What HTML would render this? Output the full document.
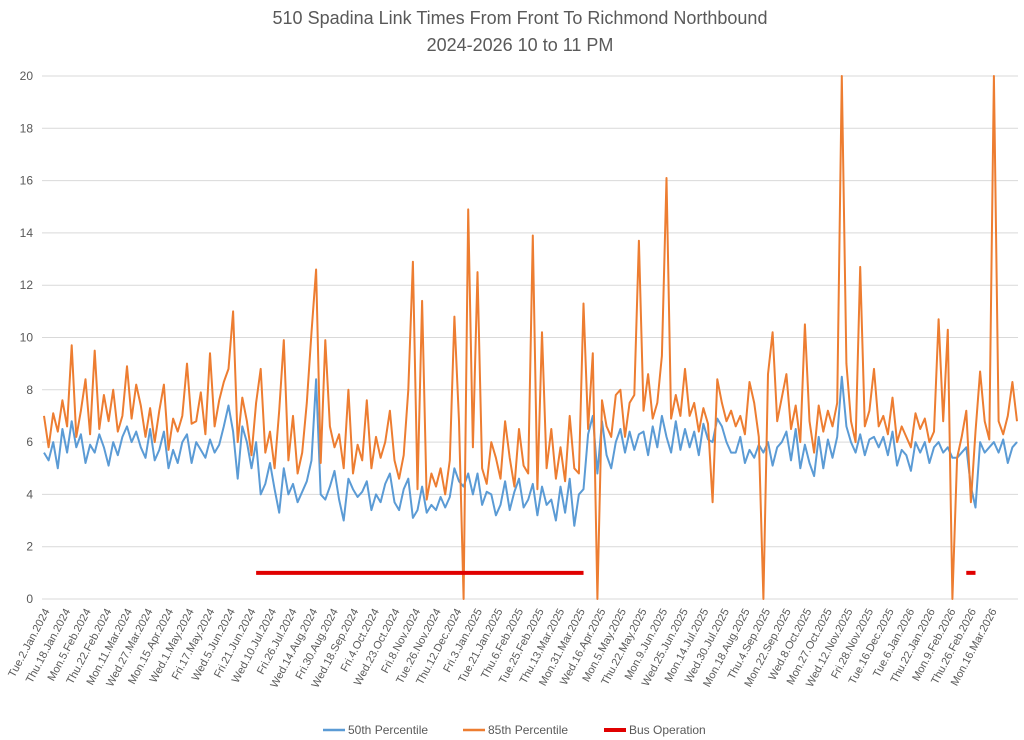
<!DOCTYPE html>
<html><head><meta charset="utf-8"><style>
body{margin:0;background:#fff;}
svg{display:block;font-family:"Liberation Sans",sans-serif;}
</style></head><body>
<svg id="chart" width="1024" height="740">
<text x="520" y="24" text-anchor="middle" font-size="18" fill="#595959">510 Spadina Link Times From Front To Richmond Northbound</text>
<text x="520" y="51" text-anchor="middle" font-size="18" fill="#595959">2024-2026 10 to 11 PM</text>
<g id="grid"></g><g id="ylab"></g><g id="xlab"></g><g id="series"></g>
<g>
<line x1="323" y1="730" x2="345" y2="730" stroke="#5b9bd5" stroke-width="2.5"/>
<text x="348" y="734" font-size="12" fill="#595959">50th Percentile</text>
<line x1="463" y1="730" x2="485" y2="730" stroke="#ed7d31" stroke-width="2.5"/>
<text x="488" y="734" font-size="12" fill="#595959">85th Percentile</text>
<line x1="604" y1="730" x2="626" y2="730" stroke="#e00000" stroke-width="4"/>
<text x="629" y="734" font-size="12" fill="#595959">Bus Operation</text>
</g>
</svg>
<script>
const yTicks=[0,2,4,6,8,10,12,14,16,18,20];
const xLabels=["Tue.2.Jan.2024","Thu.18.Jan.2024","Mon.5.Feb.2024","Thu.22.Feb.2024","Mon.11.Mar.2024","Wed.27.Mar.2024","Mon.15.Apr.2024","Wed.1.May.2024","Fri.17.May.2024","Wed.5.Jun.2024","Fri.21.Jun.2024","Wed.10.Jul.2024","Fri.26.Jul.2024","Wed.14.Aug.2024","Fri.30.Aug.2024","Wed.18.Sep.2024","Fri.4.Oct.2024","Wed.23.Oct.2024","Fri.8.Nov.2024","Tue.26.Nov.2024","Thu.12.Dec.2024","Fri.3.Jan.2025","Tue.21.Jan.2025","Thu.6.Feb.2025","Tue.25.Feb.2025","Thu.13.Mar.2025","Mon.31.Mar.2025","Wed.16.Apr.2025","Mon.5.May.2025","Thu.22.May.2025","Mon.9.Jun.2025","Wed.25.Jun.2025","Mon.14.Jul.2025","Wed.30.Jul.2025","Mon.18.Aug.2025","Thu.4.Sep.2025","Mon.22.Sep.2025","Wed.8.Oct.2025","Mon.27.Oct.2025","Wed.12.Nov.2025","Fri.28.Nov.2025","Tue.16.Dec.2025","Tue.6.Jan.2026","Thu.22.Jan.2026","Mon.9.Feb.2026","Thu.26.Feb.2026","Mon.16.Mar.2026"];
const p85=[7,5.8,7.1,6.4,7.6,6.6,9.7,6.2,7.2,8.4,
6.3,9.5,6.5,7.8,6.8,8.0,6.4,7.0,8.9,6.9,
8.2,7.4,6.2,7.3,6.0,7.2,8.2,5.7,6.9,6.4,
7.0,9.0,6.7,6.8,7.9,6.3,9.4,6.6,7.6,8.3,
8.8,11.0,6.0,7.7,6.8,5.5,7.5,8.8,5.6,6.4,
5.0,7.2,9.9,5.3,7.0,4.8,5.6,7.5,10.2,12.6,
5.2,9.9,6.6,5.8,6.3,5.0,8.0,4.8,5.9,5.3,
7.6,5.0,6.2,5.4,6.0,7.2,5.3,4.6,5.5,8.0,
12.9,4.2,11.4,3.8,4.8,4.3,5.0,4.0,5.3,10.8,
6.8,0,14.9,5.8,12.5,5.0,4.4,6.0,5.4,4.6,
6.8,5.4,4.3,6.5,5.1,4.8,13.9,4.2,10.2,5.0,
6.5,4.6,5.8,4.5,7.0,5.0,4.8,11.3,6.5,9.4,
0,7.6,6.6,6.2,7.8,8.0,6.2,7.5,7.8,13.7,
7.2,8.6,6.9,7.5,9.3,16.1,6.9,7.8,7.0,8.8,
7.0,7.5,6.4,7.3,6.7,3.7,8.4,7.5,6.8,7.2,
6.6,7.0,6.3,8.3,7.5,6.2,0,8.6,10.2,6.8,
7.7,8.6,6.5,7.4,6.0,10.5,6.8,5.6,7.4,6.4,
7.2,6.6,7.5,20,9.0,6.8,6.0,12.7,6.6,7.2,
8.8,6.6,7.0,6.3,7.7,6.0,6.6,6.2,5.8,7.1,
6.5,6.9,6.0,6.4,10.7,6.8,10.3,0,5.4,6.2,
7.2,3.7,6.4,8.7,6.8,6.1,20,6.8,6.3,7.0,8.3,6.8];
const p50=[5.6,5.3,6.0,5.0,6.5,5.6,6.8,5.8,6.3,5.2,
5.9,5.6,6.3,5.8,5.1,6.0,5.5,6.2,6.6,6.0,
6.4,5.8,5.4,6.5,5.3,5.7,6.4,5.0,5.7,5.2,
6.0,6.3,5.2,6.0,5.7,5.4,6.1,5.6,5.9,6.6,
7.4,6.4,4.6,6.6,6.0,5.0,6.0,4.0,4.4,5.2,
4.2,3.3,5.0,4.0,4.4,3.7,4.1,4.5,5.3,8.4,
4.0,3.8,4.3,4.9,3.8,3.0,4.6,4.2,3.9,4.1,
4.5,3.4,4.0,3.7,4.4,4.8,3.7,3.4,4.2,4.6,
3.1,3.4,4.3,3.3,3.6,3.4,3.9,3.5,3.9,5.0,
4.5,4.3,4.8,4.0,4.8,3.6,4.1,4.0,3.2,3.6,
4.5,3.4,4.1,4.6,3.5,3.8,4.4,3.2,4.3,3.6,
3.8,3.0,4.3,3.3,4.6,2.8,4.0,4.2,6.3,7.0,
4.8,6.8,5.5,5.0,6.0,6.5,5.6,6.4,5.7,6.3,
6.4,5.5,6.6,5.8,7.0,6.2,5.6,6.8,5.7,6.5,
5.8,6.4,5.5,6.7,6.1,6.0,6.9,6.6,6.0,5.6,
5.6,6.2,5.2,5.7,5.4,5.9,5.6,6.0,5.1,5.8,
6.0,6.4,5.3,6.5,5.0,5.9,5.2,4.7,6.2,5.0,
6.1,5.4,6.2,8.5,6.6,6.0,5.6,6.3,5.5,6.1,
6.2,5.8,6.2,5.5,6.4,5.1,5.7,5.5,4.9,6.0,
5.6,6.0,5.2,5.8,6.0,5.6,5.8,5.4,5.4,5.6,
5.8,4.3,3.5,6.0,5.6,5.8,6.0,5.6,6.1,5.2,5.8,6.0];
const busStart=[46,200];
const busEnd=[117,202];
const busValue=[1,1];

const NS="http://www.w3.org/2000/svg";
const N=p85.length;
const x0=44,x1=1017,yTop=76,yBot=599;
const xS=i=>x0+i*(x1-x0)/(N-1);
const yS=v=>yBot-v*(yBot-yTop)/20;
const labelStep=(991-44)/(xLabels.length-1);
function mk(t,a,parent){const e=document.createElementNS(NS,t);for(const k in a)e.setAttribute(k,a[k]);document.getElementById(parent).appendChild(e);return e;}
yTicks.forEach(v=>{
 const l=mk('line',{x1:42,x2:1018,y1:yS(v),y2:yS(v),stroke:'#d9d9d9','stroke-width':1},'grid');
 
 
 const t=mk('text',{x:33,y:yS(v)+4,'text-anchor':'end','font-size':12,fill:'#595959'},'ylab');
 t.textContent=v;
 
 
});
xLabels.forEach((s,j)=>{
 const x=44+j*labelStep+6,y=611;
 const t=mk('text',{x:x,y:y,'text-anchor':'end','font-size':11,fill:'#595959',transform:`rotate(-62 ${x} ${y})`},'xlab');
 t.textContent=s;
 
 
});
function path(arr,col,name){
 const d=arr.map((v,i)=>(i?'L':'M')+xS(i).toFixed(1)+','+yS(v).toFixed(1)).join('');
 const p=mk('path',{d:d,fill:'none',stroke:col,'stroke-width':2,'stroke-linejoin':'round'},'series');
 
 
}
path(p50,'#5b9bd5','series-50th-percentile');
path(p85,'#ed7d31','series-85th-percentile');
busStart.forEach((s,k)=>{
 const l=mk('line',{x1:xS(s),x2:xS(busEnd[k]),y1:yS(busValue[k]),y2:yS(busValue[k]),stroke:'#e00000','stroke-width':4},'series');
 
 
});
</script>
</body></html>
